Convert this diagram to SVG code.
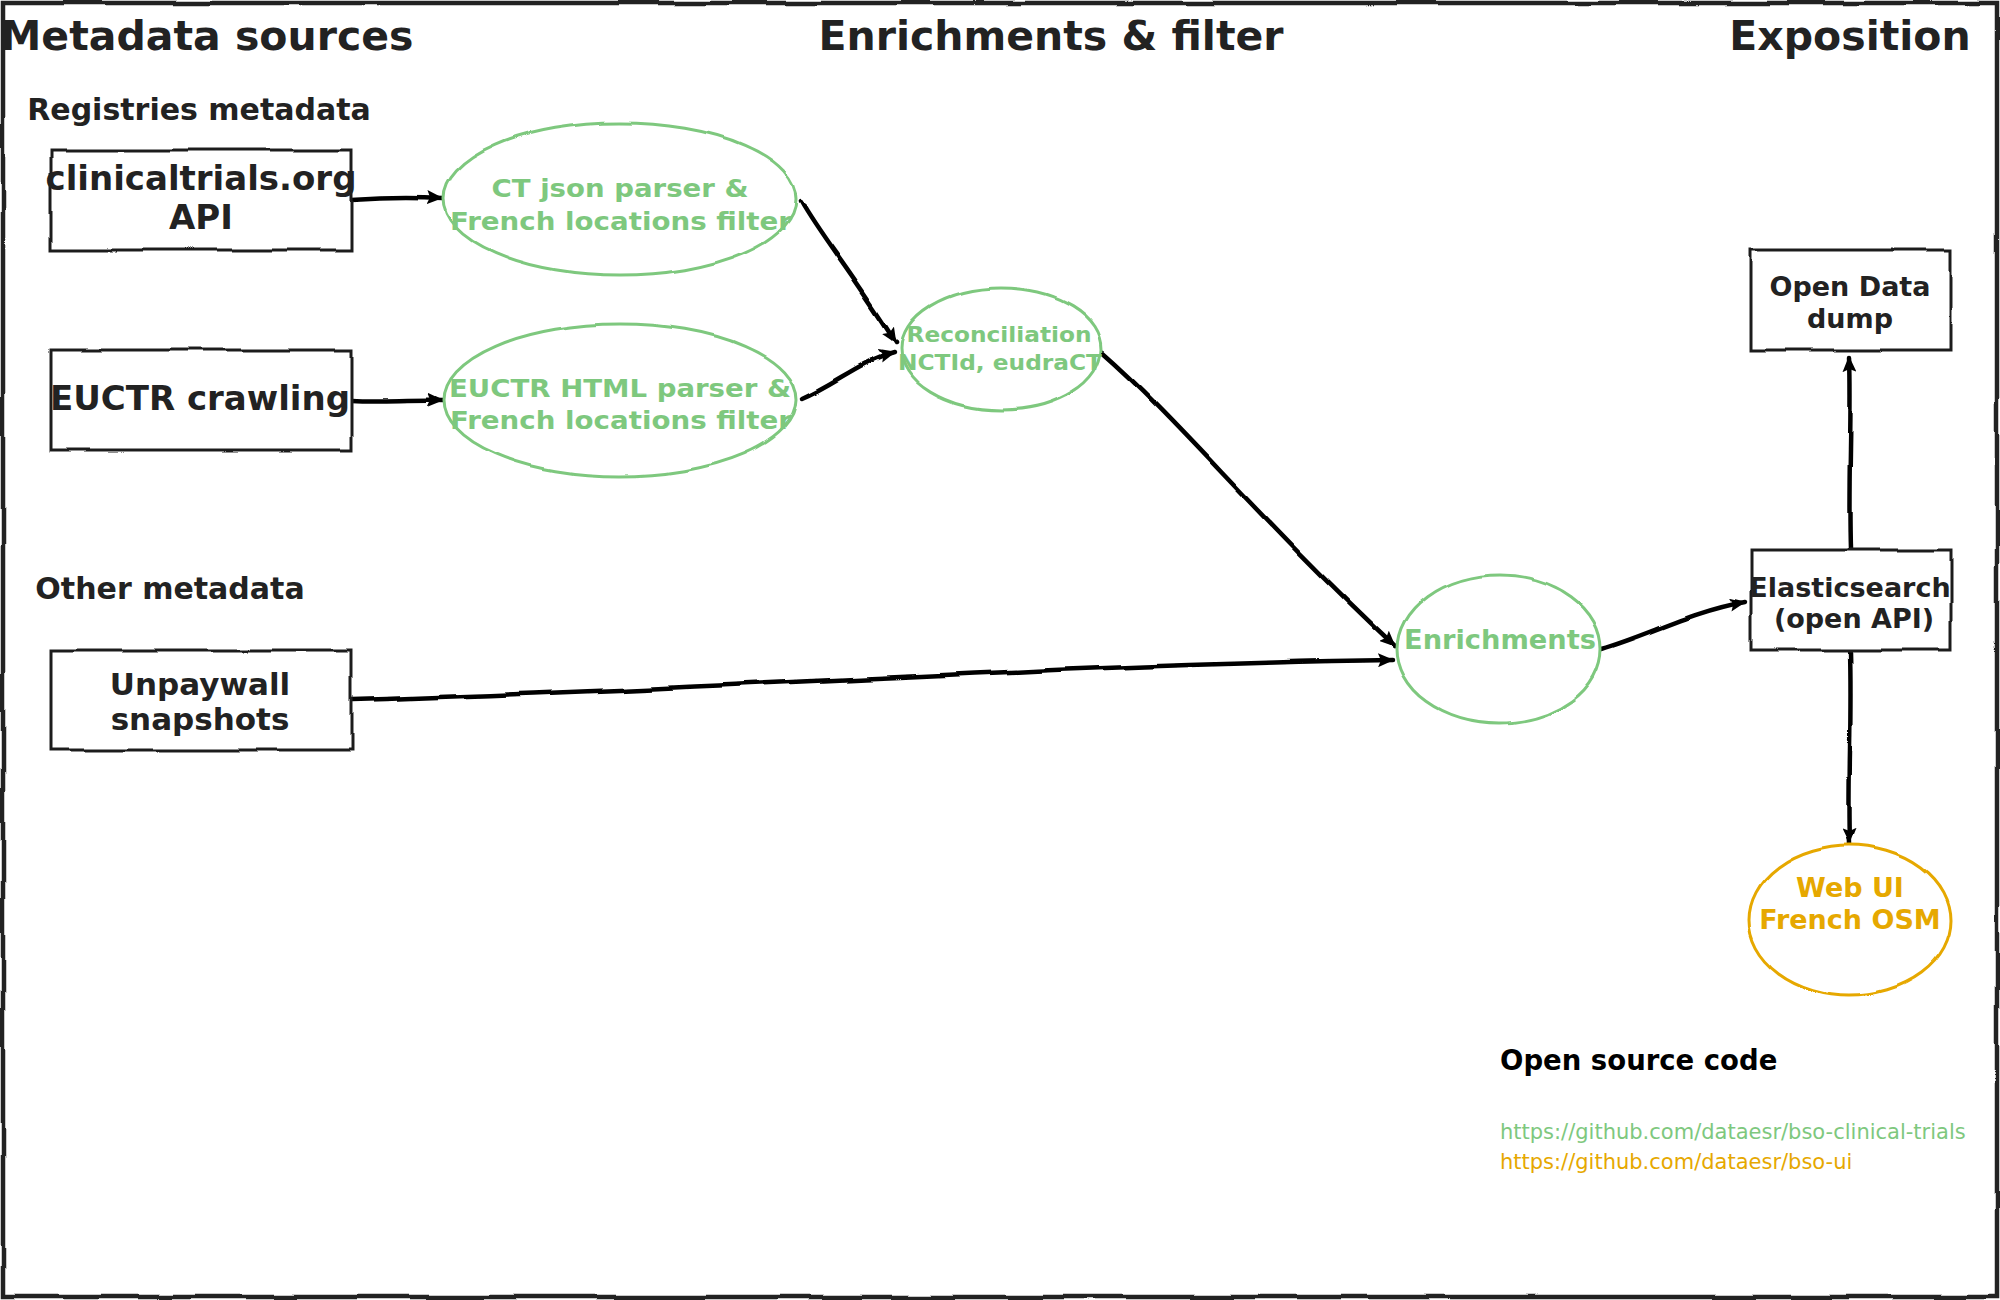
<svg xmlns="http://www.w3.org/2000/svg" width="2000" height="1300" viewBox="0 0 2000 1300">
<defs>
<filter id="rough" filterUnits="userSpaceOnUse" x="-20" y="-20" width="2040" height="1340">
<feTurbulence type="fractalNoise" baseFrequency="0.018" numOctaves="1" seed="7" result="n"/>
<feDisplacementMap in="SourceGraphic" in2="n" scale="6" xChannelSelector="R" yChannelSelector="G"/>
</filter>
<marker id="arr" markerUnits="userSpaceOnUse" viewBox="0 0 16 14" markerWidth="16" markerHeight="14" refX="15" refY="7" orient="auto">
<path d="M0,0 L16,7 L0,14 L3,7 z" fill="#000"/>
</marker>
<style>
.box{fill:#fff;stroke:#1e1e1e;stroke-width:3}
.gell{fill:#fff;stroke:#7ec87e;stroke-width:3}
.oell{fill:#fff;stroke:#e6a800;stroke-width:3}
.frame{fill:none;stroke:#222;stroke-width:4.5}
.conn{fill:none;stroke:#000;stroke-width:4.5;stroke-linecap:round;marker-end:url(#arr)}
text{font-family:"DejaVu Sans","Liberation Sans",sans-serif;font-weight:bold}
.title{font-size:41px;fill:#222;text-anchor:middle}
.sub{font-size:30px;fill:#222;text-anchor:middle}
.bt{fill:#222;text-anchor:middle}
.gt{fill:#7ec87e;text-anchor:middle}
.ot{fill:#e6a800;text-anchor:middle}
.url{font-weight:normal;font-size:21px}
</style>
</defs>
<rect class="frame" x="3" y="3" width="1994" height="1294" filter="url(#rough)"/>
<g id="titles">
<text class="title" x="207" y="50">Metadata sources</text>
<text class="title" x="1051" y="50">Enrichments &amp; filter</text>
<text class="title" x="1850" y="50">Exposition</text>
<text class="sub" x="199" y="120">Registries metadata</text>
<text class="sub" x="170" y="599">Other metadata</text>
</g>
<g id="connectors" filter="url(#rough)">
<path class="conn" d="M351,200 C380,198 410,197 443,199"/>
<path class="conn" d="M351,400 C380,402 410,399 443,400"/>
<path class="conn" d="M801,201 C820,235 850,270 896,343"/>
<path class="conn" d="M802,399 C835,385 860,362 894,353"/>
<path class="conn" d="M1102,352 C1180,420 1260,520 1395,646"/>
<path class="conn" d="M352,700 C700,690 1050,665 1393,660"/>
<path class="conn" d="M1602,649 C1650,635 1690,612 1745,602"/>
<path class="conn" d="M1850,549 C1848,480 1852,420 1850,357"/>
<path class="conn" d="M1850,652 C1852,720 1848,780 1850,844"/>
</g>
<g id="clinicaltrials">
<rect class="box" x="51" y="150" width="300" height="100" filter="url(#rough)"/>
<text class="bt" font-size="34" x="201" y="190">clinicaltrials.org</text>
<text class="bt" font-size="34" x="201" y="229">API</text>
</g>
<g id="euctr">
<rect class="box" x="51" y="350" width="300" height="100" filter="url(#rough)"/>
<text class="bt" font-size="34" x="200" y="410">EUCTR crawling</text>
</g>
<g id="unpaywall">
<rect class="box" x="51" y="650" width="300" height="100" filter="url(#rough)"/>
<text class="bt" font-size="31" x="200" y="695">Unpaywall</text>
<text class="bt" font-size="31" x="200" y="730">snapshots</text>
</g>
<g id="ctparser">
<ellipse class="gell" cx="620" cy="199" rx="176" ry="76" filter="url(#rough)"/>
<text class="gt" font-size="25" x="620" y="197" textLength="257" lengthAdjust="spacingAndGlyphs">CT json parser &amp;</text>
<text class="gt" font-size="25" x="621" y="230" textLength="342" lengthAdjust="spacingAndGlyphs">French locations filter</text>
</g>
<g id="euctrparser">
<ellipse class="gell" cx="620" cy="400" rx="176" ry="76" filter="url(#rough)"/>
<text class="gt" font-size="25" x="620" y="397" textLength="342" lengthAdjust="spacingAndGlyphs">EUCTR HTML parser &amp;</text>
<text class="gt" font-size="25" x="621" y="429" textLength="342" lengthAdjust="spacingAndGlyphs">French locations filter</text>
</g>
<g id="reconciliation">
<ellipse class="gell" cx="1001" cy="349" rx="100" ry="61" filter="url(#rough)"/>
<text class="gt" font-size="21.5" x="999" y="342" textLength="185" lengthAdjust="spacingAndGlyphs">Reconciliation</text>
<text class="gt" font-size="21.5" x="1000" y="370" textLength="204" lengthAdjust="spacingAndGlyphs">NCTId, eudraCT</text>
</g>
<g id="enrichments">
<ellipse class="gell" cx="1499" cy="649" rx="102" ry="74" filter="url(#rough)"/>
<text class="gt" font-size="27" x="1500" y="649" textLength="192" lengthAdjust="spacingAndGlyphs">Enrichments</text>
</g>
<g id="opendata">
<rect class="box" x="1751" y="250" width="200" height="100" filter="url(#rough)"/>
<text class="bt" font-size="27" x="1850" y="296">Open Data</text>
<text class="bt" font-size="27" x="1850" y="328">dump</text>
</g>
<g id="elasticsearch">
<rect class="box" x="1751" y="550" width="200" height="100" filter="url(#rough)"/>
<text class="bt" font-size="27" x="1850" y="597">Elasticsearch</text>
<text class="bt" font-size="27" x="1854" y="628">(open API)</text>
</g>
<g id="webui">
<ellipse class="oell" cx="1850" cy="920" rx="101" ry="75" filter="url(#rough)"/>
<text class="ot" font-size="27" x="1850" y="897">Web UI</text>
<text class="ot" font-size="27" x="1850" y="929">French OSM</text>
</g>
<g id="sourcecode">
<text x="1500" y="1070" font-size="27.5" fill="#000">Open source code</text>
<text class="url" x="1500" y="1139" fill="#7ec87e">https://github.com/dataesr/bso-clinical-trials</text>
<text class="url" x="1500" y="1169" fill="#e6a800">https://github.com/dataesr/bso-ui</text>
</g>
</svg>
